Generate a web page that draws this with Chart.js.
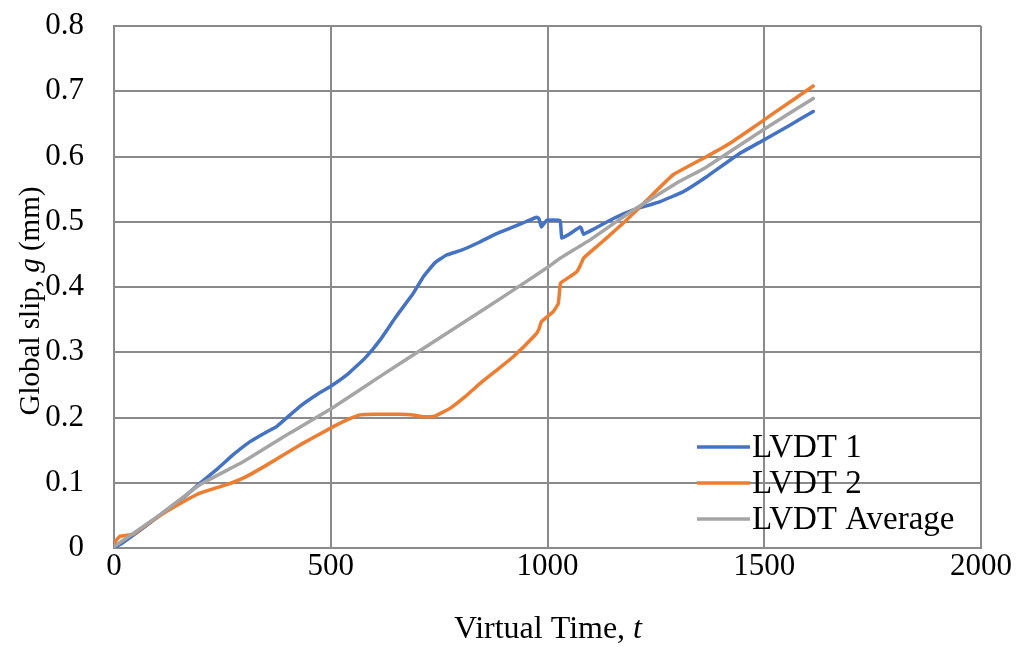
<!DOCTYPE html>
<html>
<head>
<meta charset="utf-8">
<script src="https://cdn.jsdelivr.net/npm/chart.js@4/dist/chart.umd.min.js"></script>
<style>
  body { margin: 0; background: #fff; }
  #wrap { width: 1018px; height: 647px; }
</style>
</head>
<body>
<div id="wrap"><canvas id="slipChart" width="1018" height="647"></canvas></div>
<script>
// values
const lvdt1Time = [0, 20, 60, 121, 160, 198, 240, 275, 314, 350, 375, 429, 470, 500, 540, 579, 614, 650, 690, 714, 740, 767, 800, 844, 880, 921, 950, 975, 980, 986, 998, 1029, 1031, 1033, 1050, 1075, 1078, 1083, 1110, 1152, 1198, 1260, 1313, 1367, 1444, 1498, 1559, 1613];
const lvdt1Slip = [0, 0.008, 0.027, 0.058, 0.077, 0.099, 0.122, 0.143, 0.163, 0.177, 0.186, 0.217, 0.236, 0.248, 0.267, 0.291, 0.319, 0.354, 0.390, 0.416, 0.437, 0.449, 0.456, 0.469, 0.481, 0.492, 0.500, 0.507, 0.505, 0.492, 0.502, 0.502, 0.490, 0.475, 0.481, 0.492, 0.490, 0.481, 0.490, 0.505, 0.518, 0.531, 0.546, 0.569, 0.605, 0.625, 0.648, 0.669];

const lvdt2Time = [0, 5, 14, 44, 80, 121, 160, 198, 230, 260, 298, 352, 429, 506, 540, 567, 600, 660, 690, 714, 740, 752, 775, 810, 844, 880, 921, 971, 980, 986, 1013, 1025, 1030, 1045, 1067, 1075, 1083, 1110, 1136, 1175, 1229, 1290, 1367, 1420, 1467, 1521, 1613];
const lvdt2Slip = [0.005, 0.012, 0.018, 0.021, 0.038, 0.056, 0.071, 0.084, 0.091, 0.097, 0.107, 0.127, 0.158, 0.186, 0.197, 0.204, 0.205, 0.205, 0.204, 0.201, 0.202, 0.206, 0.214, 0.232, 0.252, 0.271, 0.293, 0.326, 0.335, 0.347, 0.362, 0.375, 0.406, 0.413, 0.423, 0.432, 0.444, 0.460, 0.475, 0.498, 0.533, 0.572, 0.600, 0.620, 0.641, 0.666, 0.708];

const avgTime = [0, 100, 198, 300, 400, 500, 614, 700, 800, 900, 998, 1029, 1100, 1198, 1300, 1367, 1498, 1613];
const avgSlip = [0.002, 0.048, 0.097, 0.133, 0.174, 0.213, 0.263, 0.300, 0.343, 0.386, 0.429, 0.444, 0.473, 0.518, 0.560, 0.584, 0.641, 0.689];

const seriesNames = ['LVDT 1', 'LVDT 2', 'LVDT Average'];
const xTicks = [0, 500, 1000, 1500, 2000];

const serif = '"Liberation Serif", "Times New Roman", serif';
const gridColor = '#8a8a8a';

function toPoints(ts, gs) {
    return ts.map((t, i) => ({ x: t, y: gs[i] }));
}

// legend drawn inside the plot, bottom right, like the original
const insideLegend = {
    id: 'insideLegend',
    afterDatasetsDraw(chart) {
        const c = chart.ctx;
        const rows = [447, 483, 519];
        c.save();
        c.font = '33px ' + serif;
        c.textBaseline = 'middle';
        c.fillStyle = '#000';
        chart.data.datasets.forEach((ds, i) => {
            c.strokeStyle = ds.borderColor;
            c.lineWidth = 3.5;
            c.beginPath();
            c.moveTo(697, rows[i]);
            c.lineTo(750, rows[i]);
            c.stroke();
            c.fillText(ds.label, 752, rows[i] + 1);
        });
        c.restore();
    }
};

// axis titles with an italic symbol
const axisTitles = {
    id: 'axisTitles',
    afterDraw(chart) {
        const c = chart.ctx;
        c.save();
        c.fillStyle = '#000';
        c.textBaseline = 'middle';

        // x title
        const xn = '32px ' + serif, xi = 'italic 32px ' + serif;
        let a = 'Virtual Time, ', b = 't';
        c.font = xn; const wa = c.measureText(a).width;
        c.font = xi; const wb = c.measureText(b).width;
        let x0 = 548 - (wa + wb) / 2;
        c.font = xn; c.fillText(a, x0, 630);
        c.font = xi; c.fillText(b, x0 + wa, 630);

        // y title
        const yn = '29px ' + serif, yi = 'italic 29px ' + serif;
        c.translate(31, 301);
        c.rotate(-Math.PI / 2);
        const parts = [['Global slip, ', yn], ['g', yi], [' (mm)', yn]];
        let total = 0;
        parts.forEach(p => { c.font = p[1]; total += c.measureText(p[0]).width; });
        let px = -total / 2;
        parts.forEach(p => {
            c.font = p[1];
            c.fillText(p[0], px, 0);
            px += c.measureText(p[0]).width;
        });
        c.restore();
    }
};

new Chart(document.getElementById('slipChart'), {
    type: 'scatter',
    data: {
        datasets: [
            { label: seriesNames[0], data: toPoints(lvdt1Time, lvdt1Slip), borderColor: '#4472C4', order: 2 },
            { label: seriesNames[1], data: toPoints(lvdt2Time, lvdt2Slip), borderColor: '#ED7D31', order: 1 },
            { label: seriesNames[2], data: toPoints(avgTime, avgSlip), borderColor: '#A5A5A5', order: 0 }
        ].map(ds => Object.assign(ds, {
            showLine: true, pointRadius: 0, borderWidth: 3.5, tension: 0.1,
            borderCapStyle: 'round', borderJoinStyle: 'round', fill: false
        }))
    },
    options: {
        responsive: false,
        animation: false,
        layout: { padding: { top: 26, right: 37, left: 0, bottom: 0 } },
        plugins: { legend: { display: false }, tooltip: { enabled: false } },
        scales: {
            x: {
                type: 'linear', min: 0, max: 2000,
                afterBuildTicks: s => { s.ticks = xTicks.map(v => ({ value: v })); },
                afterFit: s => { s.height = 99; s.paddingLeft = 0; s.paddingRight = 0; },
                grid: { color: gridColor, lineWidth: 2, drawTicks: false },
                border: { color: gridColor, width: 2 },
                ticks: { padding: 0, color: '#000', font: { family: serif, size: 31 }, callback: v => String(v) }
            },
            y: {
                min: 0, max: 0.8,
                afterFit: s => { s.width = 114; s.paddingTop = 0; s.paddingBottom = 0; },
                grid: { color: gridColor, lineWidth: 2, drawTicks: false },
                border: { color: gridColor, width: 2 },
                ticks: { stepSize: 0.1, padding: 30, color: '#000', font: { family: serif, size: 31 }, callback: v => String(Math.round(v * 10) / 10) }
            }
        }
    },
    plugins: [insideLegend, axisTitles]
});
</script>
</body>
</html>
